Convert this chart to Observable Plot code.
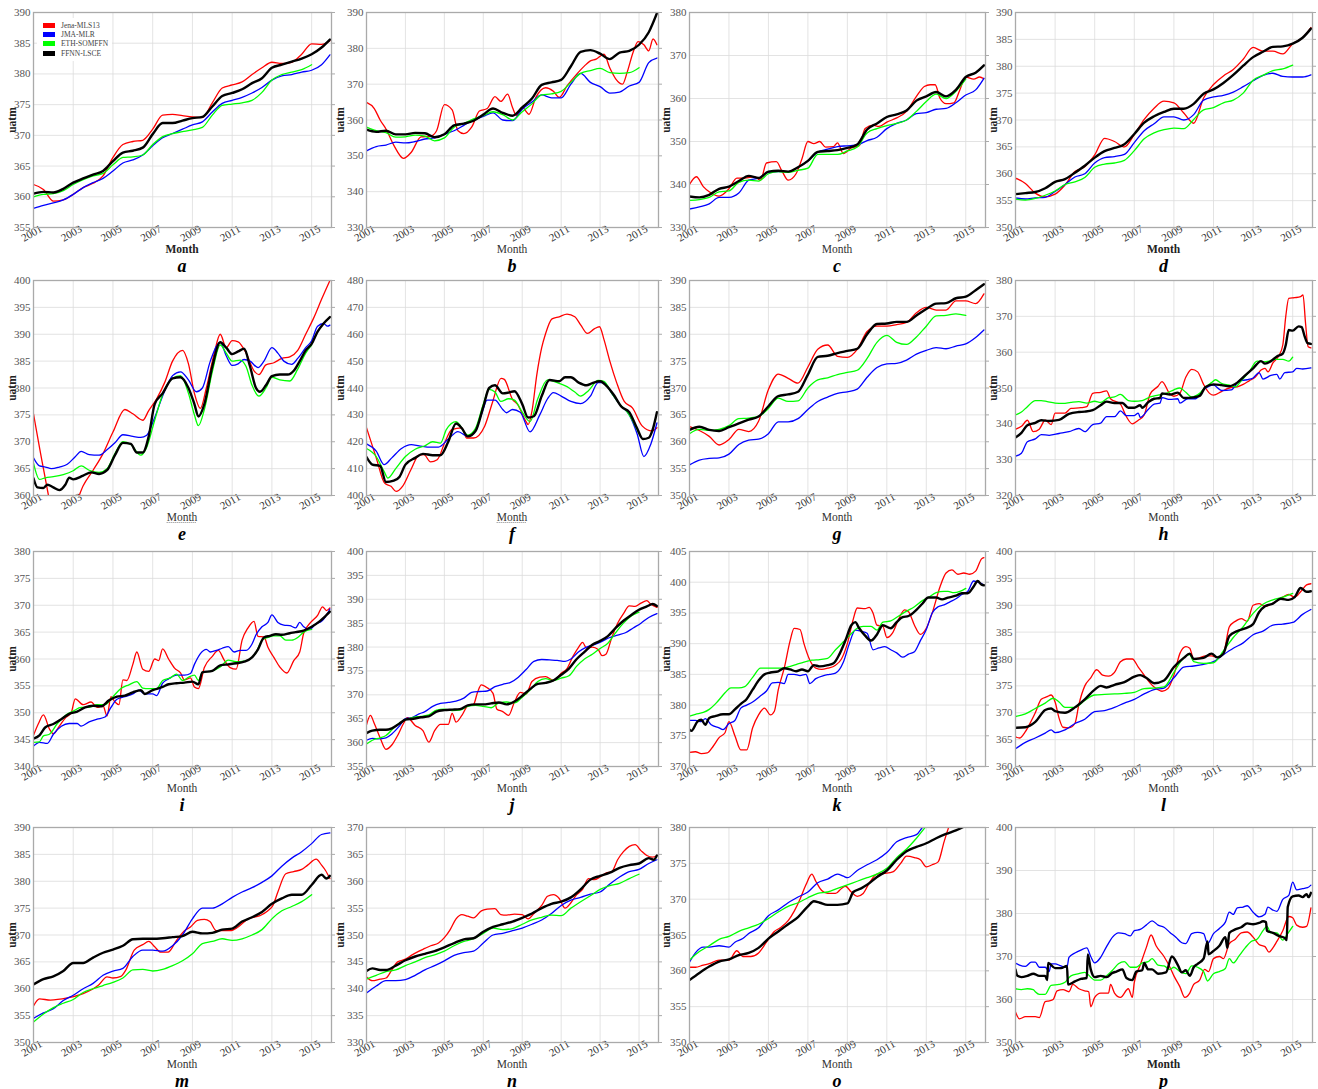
<!DOCTYPE html>
<html>
<head>
<meta charset="utf-8">
<script src="https://cdn.jsdelivr.net/npm/d3@7"></script>
<script src="https://cdn.jsdelivr.net/npm/@observablehq/plot@0.6"></script>
<style>
  body { margin: 0; background: #fff; }
  #fig { position: relative; width: 1318px; height: 1089px; overflow: hidden;
         font-family: "Liberation Serif", "DejaVu Serif", serif; color: #222; }
  .panel { position: absolute; }
  .ylab { position: absolute; font-size: 11.5px; font-weight: bold; white-space: nowrap;
          transform: translate(-50%, -50%) rotate(-90deg); color: #222; }
  .xlab { position: absolute; font-size: 11.5px; white-space: nowrap;
          transform: translate(-50%, -50%); color: #333; }
  .xlab.bold { font-weight: bold; color: #222; }
  .xlab.dotted { text-decoration: underline dotted #888; }
  .letter { position: absolute; font-size: 18px; font-weight: bold; font-style: italic;
            transform: translate(-50%, -50%); color: #000; }
  .legend { position: absolute; background: #fff; padding: 3px 4px 3px 6px; }
  .legend .row { display: flex; align-items: center; height: 9.2px; }
  .legend .sw { width: 12px; height: 5px; margin-right: 6px; }
  .legend .lab { font-size: 7.5px; color: #444; white-space: nowrap; }
</style>
</head>
<body>
<div id="fig"></div>
<script>
// Half-year time grid used by the evenly sampled series
const T = [2001, 2001.5, 2002, 2002.5, 2003, 2003.5, 2004, 2004.5, 2005, 2005.5,
           2006, 2006.5, 2007, 2007.5, 2008, 2008.5, 2009, 2009.5, 2010, 2010.5,
           2011, 2011.5, 2012, 2012.5, 2013, 2013.5, 2014, 2014.5, 2015, 2015.5, 2015.92];

const seriesNames = ["Jena-MLS13", "JMA-MLR", "ETH-SOMFFN", "FFNN-LSCE"];
const seriesColors = ["#ff0000", "#0000ff", "#00ff00", "#000000"];
const seriesWidths = [1.3, 1.3, 1.3, 2.4];

const xTicks = [2001, 2003, 2005, 2007, 2009, 2011, 2013, 2015];

// ---- panel a ----
const a_ticks = [355, 360, 365, 370, 375, 380, 385, 390];
const a_jena = [362, 361.2, 359.3, 359.5, 360.4, 361.5, 362.2, 363.4, 366.4, 368.5, 369, 369.2, 371, 373.3, 373.4, 373.2, 373, 372.9, 375.3, 377.7, 378.2, 378.7, 379.9, 381, 381.9, 381.7, 381.9, 383.2, 384.9, 384.8, 385.4];
const a_jma = [358.1, 358.6, 359, 359.5, 360.4, 361.5, 362.3, 363, 364.2, 365.5, 366, 366.8, 368.3, 369.6, 370.3, 371, 371.7, 372.2, 373.8, 375.2, 375.7, 376.2, 376.9, 377.8, 379, 379.7, 379.9, 380.3, 380.6, 381.5, 383.1];
const a_eth = [360, 360.4, 360.5, 361, 362, 362.8, 363.4, 363.8, 365.2, 366.4, 366.5, 366.8, 368.5, 369.8, 370.3, 370.6, 370.9, 371.3, 373.3, 374.9, 375.1, 375.3, 375.7, 377, 379, 379.9, 380.3, 380.7, 381.5];
const a_ffnn = [360.5, 360.8, 360.7, 361.3, 362.3, 363, 363.6, 364.2, 365.8, 367.2, 367.5, 368, 370.2, 372, 372, 372.4, 372.8, 373, 374.7, 376.4, 376.9, 377.5, 378.5, 379.3, 381, 381.5, 382, 382.5, 383.2, 384.3, 385.6];

// ---- panel b ----
const b_ticks = [330, 340, 350, 360, 370, 380, 390];
const b_jena = [[2001,364.9],[2001.4,363.2],[2001.7,360],[2002,357.5],[2002.4,353],[2002.9,349.3],[2003.3,351],[2003.8,355.3],[2004.3,355.5],[2004.6,357],[2005,364.3],[2005.4,362.8],[2005.7,357],[2006,356.2],[2006.4,358],[2006.8,362.5],[2007.2,363.2],[2007.6,366.5],[2007.9,365.2],[2008.25,367.2],[2008.5,363.5],[2008.7,361.3],[2009,363.5],[2009.35,361.6],[2009.7,366.3],[2010.2,369],[2010.6,368],[2010.9,366.3],[2011.3,369.5],[2011.8,372.8],[2012.2,375.1],[2012.5,376.5],[2012.8,377],[2013.2,378.4],[2013.5,374.5],[2013.8,371.5],[2014.15,370],[2014.4,373.5],[2014.7,379],[2014.95,381.9],[2015.25,381],[2015.5,379.3],[2015.72,382.6],[2015.92,381]];
const b_jma = [351.4, 352.6, 353, 353.8, 353.6, 354, 354.7, 355, 356, 357, 358.5, 360, 361, 362, 360, 359.8, 363, 365, 367, 366.2, 366.2, 370, 373, 370.5, 369.3, 367.5, 367.8, 369.5, 370.5, 376, 377.3];
const b_eth = [358, 357, 356.5, 355.2, 355.3, 355.8, 355.5, 354.2, 355, 358, 359, 360.3, 361.2, 362.3, 361.5, 360, 362.3, 364.5, 367, 367.3, 368, 370.5, 373, 373.8, 374.4, 373.2, 373, 373.2, 374.6];
const b_ffnn = [357.3, 356.7, 357, 356, 356, 356.4, 356.3, 355.2, 356, 358.5, 359, 359.8, 361.5, 363.2, 362, 361.2, 363.5, 366, 369.8, 370.5, 371.2, 375, 379, 379.5, 378.5, 377, 378.8, 379.3, 381, 384.5, 389.8];

// ---- panel c ----
const c_ticks = [330, 340, 350, 360, 370, 380];
const c_jena = [[2001,340],[2001.35,341.8],[2001.7,339.5],[2002,338.3],[2002.5,337.3],[2003,339],[2003.4,341.5],[2003.8,341.5],[2004.3,341.8],[2004.6,341],[2004.9,345],[2005.4,345.3],[2005.7,343],[2006,341],[2006.4,342.5],[2006.7,346],[2007,350],[2007.3,349.5],[2007.6,350],[2007.9,348.7],[2008.3,348.8],[2008.5,349.7],[2008.8,347.2],[2009.2,348.5],[2009.6,349],[2009.9,353],[2010.3,353.8],[2010.6,353.5],[2011,354.5],[2011.5,355.5],[2012,357],[2012.5,360.5],[2012.9,362.8],[2013.2,363.2],[2013.45,363.2],[2013.7,360],[2014,358.8],[2014.4,359],[2014.7,362],[2015,365],[2015.4,364.5],[2015.7,365],[2015.92,364.6]];
const c_jma = [334.3, 334.8, 335.5, 337, 337, 338, 341, 341.5, 342.8, 343, 343, 344, 345.5, 347.5, 348.2, 348.8, 349, 349.2, 350.2, 351, 353, 354.2, 355, 356.5, 356.7, 357.5, 357.7, 359, 360.8, 362, 364.7];
const c_eth = [336.3, 336.5, 337, 338.3, 338.5, 340.5, 341, 340.8, 342.5, 343, 342.8, 343.3, 343.8, 347, 347, 347, 347.8, 348.7, 352, 353, 353.7, 354.2, 355, 357, 359.3, 361, 360, 361.7, 364.5];
const c_ffnn = [337.2, 337, 337.6, 339, 339.5, 340.8, 342, 341.5, 343, 343.2, 343, 344, 345.5, 347.6, 347.8, 348, 348.5, 349.3, 352.8, 354.2, 355.7, 356.3, 357.2, 359.5, 360.5, 361.5, 360.5, 362, 365, 366, 367.7];

// ---- panel d ----
const d_ticks = [350, 355, 360, 365, 370, 375, 380, 385, 390];
const d_jena = [359.2, 358.2, 356.4, 355.7, 356.2, 357.9, 360.4, 361.3, 363.5, 366.6, 366, 365, 367.3, 370.1, 372.2, 373.5, 373.2, 371.3, 369.4, 374.1, 376.6, 378.2, 379.4, 381.3, 383.5, 382.8, 382.8, 382.3, 384.2, 385.3, 387.2];
const d_jma = [355.5, 355.3, 355.5, 355.6, 356.7, 358, 359.4, 360, 362, 363, 363.2, 363.6, 365.8, 368, 369.3, 370.6, 370.6, 370, 371, 373.7, 374.3, 374.6, 375.2, 376.2, 377.3, 378.3, 378.7, 378.1, 378, 378, 378.4];
const d_eth = [355.3, 355.1, 355.4, 356, 356.8, 358, 358.5, 359.3, 361.2, 361.8, 362, 362.5, 364.3, 366.5, 367.6, 368.2, 368.5, 368.4, 370.1, 371.9, 372.3, 373.2, 373.7, 375, 377.4, 378.3, 379.2, 379.5, 380.2];
const d_ffnn = [356.2, 356.4, 356.6, 357.3, 358.5, 359, 360.2, 361.5, 363, 364.2, 364.8, 365.5, 367.4, 369.5, 370.7, 371.5, 372.1, 372.1, 373, 374.9, 375.7, 376.9, 378.4, 380.1, 381.7, 382.7, 383.6, 383.7, 384.2, 385.3, 387];

// ---- panel e ----
const e_ticks = [360, 365, 370, 375, 380, 385, 390, 395, 400];
const e_jena = [[2001,375.2],[2001.5,365],[2002,356],[2002.5,353],[2003,357],[2003.5,361.8],[2004,364.7],[2004.5,367.8],[2005,371.8],[2005.6,376],[2006,375.2],[2006.5,374],[2006.8,375.8],[2007.2,378],[2007.6,381],[2008,385],[2008.5,387],[2008.8,384.5],[2009.1,379],[2009.4,376.2],[2009.7,380],[2010.1,386.5],[2010.4,390],[2010.7,387.5],[2011,388.8],[2011.3,388.6],[2011.7,386.5],[2012.1,383.2],[2012.35,382.5],[2012.7,384.3],[2013.1,384.7],[2013.5,385.5],[2013.9,385.8],[2014.3,387],[2014.7,390],[2015.1,393],[2015.5,396.5],[2015.92,400]];
const e_jma = [[2001,367],[2001.3,365.5],[2001.6,365.3],[2001.9,365],[2002.3,365.3],[2002.7,365.8],[2003.1,367.2],[2003.4,368.2],[2003.8,367.6],[2004.3,367.5],[2004.7,368.5],[2005.1,369.8],[2005.5,371.3],[2006,371],[2006.4,370.8],[2006.7,371.2],[2007.1,374.5],[2007.5,378.5],[2008,382.3],[2008.4,383],[2008.8,381.5],[2009.2,379.3],[2009.5,380],[2009.9,385],[2010.4,388.5],[2010.7,386],[2011,384.2],[2011.3,384.5],[2011.6,385.3],[2011.9,385],[2012.3,383.8],[2012.6,385],[2013,387.5],[2013.3,386.5],[2013.6,385],[2014,384.4],[2014.3,385.5],[2014.7,387.5],[2015,388.8],[2015.3,391.5],[2015.6,392],[2015.8,391.5],[2015.92,391.7]];
const e_eth = [[2001,366],[2001.3,363],[2001.6,363.3],[2002,363.5],[2002.5,363.9],[2003,364.6],[2003.4,365.5],[2003.8,364.7],[2004.3,364.3],[2004.7,365],[2005.1,367.8],[2005.5,370],[2005.9,369.5],[2006.4,367.5],[2006.7,369],[2007.1,374],[2007.5,378.8],[2008,381.8],[2008.4,382.3],[2008.8,379],[2009.1,375],[2009.3,373],[2009.6,376],[2010,383],[2010.4,388],[2010.7,386.5],[2011,385],[2011.4,385.2],[2011.7,384],[2012,380.5],[2012.35,378.5],[2012.7,380],[2013,382],[2013.4,381.5],[2013.9,381.3],[2014.3,383.5],[2014.7,386.5],[2015,388]];
const e_ffnn = [[2001,363.2],[2001.2,361.5],[2001.5,361.4],[2001.7,362],[2002,361.5],[2002.3,361],[2002.6,362],[2002.8,363.3],[2003,363],[2003.5,363.7],[2003.9,364.3],[2004.3,364],[2004.7,364.7],[2005.1,367.5],[2005.5,369.8],[2005.9,369.6],[2006.2,368],[2006.5,368],[2006.8,371],[2007.1,377],[2007.5,379],[2008,381.8],[2008.4,382],[2008.8,380],[2009.1,377],[2009.3,374.7],[2009.6,377],[2010,384],[2010.4,388.5],[2010.7,387.5],[2011,386.3],[2011.3,386.8],[2011.6,387.3],[2011.9,384],[2012.2,380],[2012.4,379.3],[2012.7,380.5],[2013,382.2],[2013.4,382.5],[2013.8,382.5],[2014.1,383.2],[2014.4,385],[2014.7,387],[2015,388.2],[2015.3,390.5],[2015.6,392],[2015.92,393.2]];

// ---- panel f ----
const f_ticks = [400, 410, 420, 430, 440, 450, 460, 470, 480];
const f_jena = [[2001,425.2],[2001.5,414],[2001.93,404.6],[2002.26,403.4],[2002.52,401.5],[2002.85,403.4],[2003.28,409.6],[2003.7,415],[2003.95,415.2],[2004.29,412.5],[2004.63,413.3],[2005.05,420.2],[2005.38,424.5],[2005.89,425.2],[2006.14,421.4],[2006.5,421.4],[2007.07,425.8],[2007.49,435.1],[2007.91,443.6],[2008.08,443.2],[2008.5,435.8],[2008.76,433.9],[2009.18,427.7],[2009.3,426.4],[2009.5,431.4],[2009.75,445],[2010,455],[2010.19,460],[2010.53,465.7],[2010.9,466.5],[2011.3,467.5],[2011.7,466.5],[2012,463.5],[2012.35,460.3],[2012.7,462],[2012.97,462.8],[2013.2,458],[2013.5,450],[2013.85,442],[2014.24,435],[2014.66,432.6],[2015.17,425.8],[2015.67,424],[2015.92,425.2]];
const f_jma = [[2001,419.2],[2001.5,416.5],[2001.9,411.5],[2002.3,414],[2002.8,417.5],[2003.3,418.9],[2003.7,418.5],[2004.3,418],[2004.7,418],[2005.2,421],[2005.7,423.8],[2006.2,422],[2006.5,423],[2006.9,430],[2007.2,435.5],[2007.6,435.5],[2008,432],[2008.2,430.8],[2008.5,432],[2008.9,431],[2009.4,423.7],[2009.9,430],[2010.3,436],[2010.6,438.3],[2011,437],[2011.5,435],[2012,434.2],[2012.5,437],[2012.9,442],[2013.2,442],[2013.6,438],[2014,434],[2014.5,430],[2014.9,423],[2015.25,414.5],[2015.6,419],[2015.92,427]];
const f_eth = [[2001,417.5],[2001.5,414.5],[2001.9,409],[2002.1,406.5],[2002.5,410],[2003,414.5],[2003.5,417.2],[2004,418.5],[2004.4,420],[2004.8,419.5],[2005.1,424.5],[2005.6,427.5],[2006.2,422.5],[2006.6,425],[2007,434],[2007.3,439.5],[2007.6,438.5],[2007.9,435],[2008.3,436],[2008.6,435.5],[2009,431],[2009.4,427.5],[2009.8,436],[2010.3,443],[2010.8,442],[2011.3,440.5],[2011.7,438.5],[2012,437],[2012.4,439],[2012.9,442.8],[2013.2,442.5],[2013.6,438],[2014,434],[2014.4,431],[2014.8,426],[2015,423]];
const f_ffnn = [[2001,414.3],[2001.3,411.5],[2001.7,411],[2002,405],[2002.4,405.5],[2002.7,407],[2003,411.5],[2003.5,414],[2003.9,415.5],[2004.4,415],[2004.8,415],[2005.2,420],[2005.6,426.8],[2005.9,425],[2006.2,422],[2006.6,424],[2007,433],[2007.3,440],[2007.6,441],[2008,438],[2008.3,438.3],[2008.6,438.8],[2009,434],[2009.3,429],[2009.6,429.5],[2010,437],[2010.4,443],[2010.9,442.5],[2011.2,444],[2011.5,444],[2011.9,442],[2012.3,441],[2012.6,441.8],[2013,442.5],[2013.3,441],[2013.7,437.5],[2014.1,433],[2014.5,431],[2014.9,425],[2015.2,421],[2015.5,421.5],[2015.7,424.5],[2015.92,431]];

// ---- panel g ----
const g_ticks = [350, 355, 360, 365, 370, 375, 380, 385, 390];
const g_jena = [362.8, 362.1, 361, 359.4, 360.4, 362.3, 361.9, 363.8, 369.7, 372.6, 371.8, 370.9, 373.9, 377.2, 378, 375.9, 375.7, 377.2, 380.5, 381.5, 381.5, 381.8, 382.2, 384, 385, 384.5, 384.5, 386.2, 386.2, 385.7, 387.5];
const g_jma = [355.7, 356.6, 356.9, 357, 357.7, 359.5, 360.3, 360.5, 361.5, 363.7, 363.7, 364.3, 366, 367.5, 368.3, 369, 369.3, 369.8, 372, 373.8, 374.5, 374.6, 375.2, 376.3, 377, 377.5, 377.3, 377.8, 378.2, 379.4, 380.8];
const g_eth = [361.5, 362.3, 362.1, 362.3, 363, 364.3, 364.4, 364.7, 366.2, 368.1, 367.5, 367.6, 370, 371.5, 371.9, 372.5, 372.9, 373.3, 375.5, 378.5, 379.8, 378.5, 378.1, 379.5, 381.5, 383.4, 383.5, 383.8, 383.5];
const g_ffnn = [362.2, 362.8, 362.2, 362, 362.7, 363.4, 364.1, 364.7, 366.6, 368.5, 368.8, 369.3, 372.5, 375.8, 376, 376.5, 376.9, 377.3, 380, 381.9, 382, 382.3, 382.3, 383.5, 384.7, 385.7, 385.8, 386.7, 387, 388.2, 389.3];

// ---- panel h ----
const h_ticks = [320, 330, 340, 350, 360, 370, 380];
const h_jena = [[2001,338.5],[2001.3,339.3],[2001.6,341],[2001.9,337.8],[2002.2,338.5],[2002.5,341],[2002.8,339.8],[2003,343],[2003.5,343],[2003.8,344.3],[2004.3,344.5],[2004.6,344.8],[2004.9,348.5],[2005.3,348.8],[2005.6,349.2],[2005.8,347],[2006.3,345.5],[2006.6,342],[2006.9,340],[2007.2,341],[2007.5,342.5],[2007.8,348.3],[2008.2,350.5],[2008.4,351.8],[2008.8,348.3],[2009,347.7],[2009.3,348.5],[2009.6,353],[2009.9,355.2],[2010.2,354.5],[2010.5,351],[2010.8,348.5],[2011,348],[2011.4,349],[2011.8,350],[2012.2,350.3],[2012.5,351],[2012.8,352],[2013.1,353],[2013.4,355],[2013.6,355.5],[2013.75,354.5],[2014,357],[2014.3,359],[2014.5,362],[2014.65,370],[2014.8,375],[2015.1,375.2],[2015.4,375.5],[2015.52,376],[2015.65,368],[2015.78,361.5],[2015.92,361.2]];
const h_jma = [[2001,331],[2001.3,331.8],[2001.6,335],[2002,335.8],[2002.3,337],[2002.7,336.8],[2003.2,337.3],[2003.7,337.8],[2004.2,338.7],[2004.5,337.8],[2004.9,339.8],[2005.3,340.2],[2005.6,342],[2006,342],[2006.3,343.6],[2006.6,342.3],[2007,342.3],[2007.2,343],[2007.3,341.8],[2007.7,344],[2008,345.5],[2008.3,345.8],[2008.4,347.3],[2008.8,346.8],[2009.2,347],[2009.3,345.8],[2009.7,347],[2010.1,347],[2010.5,349.5],[2011,350.8],[2011.4,349.3],[2011.9,349.5],[2012.3,352],[2012.7,352.3],[2013,352.8],[2013.3,354.3],[2013.5,352.5],[2013.9,353.5],[2014.2,353.8],[2014.35,352.5],[2014.6,354.3],[2015,354.5],[2015.2,355.5],[2015.5,355.3],[2015.92,355.6]];
const h_eth = [[2001,342.5],[2001.3,343.3],[2001.6,344.8],[2002,346.5],[2002.3,346.5],[2002.6,346.2],[2003,345.8],[2003.4,345.7],[2003.8,346],[2004.2,346.2],[2004.6,345.8],[2005,346.3],[2005.3,346],[2005.7,347.3],[2006,347.5],[2006.3,348.2],[2006.7,346.5],[2007,346.3],[2007.4,346.5],[2007.8,347.5],[2008.2,348],[2008.6,348.5],[2009,349.5],[2009.3,350],[2009.6,348.8],[2009.9,347.5],[2010.3,348.5],[2010.6,350.3],[2010.9,351.5],[2011.1,352.3],[2011.4,351.3],[2011.8,350.8],[2012.1,350.3],[2012.4,352],[2012.8,354.5],[2013.2,357.5],[2013.5,357.3],[2013.8,357.5],[2014.1,358],[2014.5,358],[2014.8,357.5],[2015,358.6]];
const h_ffnn = [[2001,336.2],[2001.3,337.5],[2001.6,339.6],[2002,340.3],[2002.3,341],[2002.7,340.8],[2003.2,341.1],[2003.7,342.8],[2004.2,343.3],[2004.5,343.4],[2004.9,343.8],[2005.3,345.2],[2005.6,346.2],[2006,345.8],[2006.4,345.8],[2006.7,344.5],[2007,344.5],[2007.3,345.2],[2007.4,344.5],[2007.7,346],[2008,347],[2008.3,347.2],[2008.4,348.5],[2008.8,348.2],[2009.2,348.7],[2009.5,347.2],[2010,347.4],[2010.3,347.8],[2010.6,350.3],[2011,351],[2011.4,350.8],[2011.8,350.5],[2012.2,351.5],[2012.6,353.5],[2013,355.5],[2013.4,357.5],[2013.6,356.8],[2013.9,357.5],[2014.2,358.8],[2014.5,359.6],[2014.65,362],[2014.8,366.2],[2015,366],[2015.3,367.2],[2015.45,367],[2015.6,364.5],[2015.75,362.5],[2015.92,362.3]];

// ---- panel i ----
const i_ticks = [340, 345, 350, 355, 360, 365, 370, 375, 380];
const i_jena = [[2001,345.8],[2001.25,348],[2001.5,349.6],[2001.8,347],[2002,346.1],[2002.3,347.5],[2002.6,349],[2002.9,350],[2003.1,352.6],[2003.5,351.5],[2003.9,352],[2004.2,351],[2004.5,351.3],[2004.7,349.4],[2004.9,353],[2005.1,352],[2005.3,351.5],[2005.5,356.1],[2005.7,356],[2006,359],[2006.2,361.3],[2006.5,358.1],[2006.8,357.7],[2007.1,360],[2007.3,359.7],[2007.5,361.9],[2007.8,360],[2008.1,358.3],[2008.4,357.4],[2008.6,356.1],[2008.9,356.5],[2009.1,354.8],[2009.3,354.5],[2009.6,358.4],[2010,360.5],[2010.3,361.6],[2010.6,359.8],[2010.9,358.4],[2011.2,358.1],[2011.5,363.5],[2011.8,365.8],[2012.1,367],[2012.3,364.2],[2012.6,364.1],[2012.8,362.2],[2013.1,360.3],[2013.4,358.5],[2013.75,357.4],[2014.1,359.7],[2014.4,361.3],[2014.6,364.8],[2014.95,366.8],[2015.3,368.1],[2015.55,369.7],[2015.75,369],[2015.92,369.5]];
const i_jma = [[2001,343.8],[2001.3,344.5],[2001.7,344.3],[2002,346],[2002.4,347.5],[2002.8,348],[2003.2,348],[2003.4,347.5],[2003.8,348.3],[2004.2,348.8],[2004.6,349.2],[2004.9,351],[2005.2,352.5],[2005.6,353],[2006,353.5],[2006.3,354.2],[2006.6,353.5],[2007,353.5],[2007.2,353.2],[2007.5,355.5],[2007.8,356.3],[2008.2,357],[2008.6,357],[2008.9,357.3],[2009.1,359],[2009.4,361],[2009.7,361.8],[2009.9,361.3],[2010.2,361.6],[2010.5,362],[2010.8,362.3],[2011.1,361.3],[2011.4,361.6],[2011.7,361.6],[2012,362.8],[2012.2,364.5],[2012.5,366],[2012.8,366.8],[2013,368.2],[2013.3,366.8],[2013.6,366.3],[2013.9,366.2],[2014.2,365.8],[2014.4,366.8],[2014.6,366],[2014.9,365.5],[2015.2,366.5],[2015.5,367],[2015.8,368.5],[2015.92,369.3]];
const i_eth = [[2001,344.5],[2001.3,344.6],[2001.5,345.7],[2001.8,346],[2002.2,348],[2002.6,349.5],[2003,350.3],[2003.4,351],[2003.8,351],[2004.2,351.5],[2004.6,351.5],[2005,353],[2005.4,354.5],[2005.8,355.2],[2006.2,355.8],[2006.5,354.6],[2006.8,354.5],[2007.2,354.5],[2007.5,356],[2007.9,356.5],[2008.2,357.2],[2008.5,356],[2008.8,356.6],[2009.1,357],[2009.3,356],[2009.5,357.5],[2010,357.8],[2010.4,358.5],[2010.8,359.8],[2011.2,359.5],[2011.6,359.6],[2011.9,360],[2012.2,361.2],[2012.5,363.5],[2012.8,364],[2013.1,364.3],[2013.4,364.3],[2013.7,363.5],[2014,363.5],[2014.3,364],[2014.6,365],[2015,365.5]];
const i_ffnn = [[2001,345.2],[2001.3,345.8],[2001.6,347.3],[2002,347.9],[2002.4,348.8],[2002.8,349.8],[2003.2,350.2],[2003.6,351],[2004,351.3],[2004.4,351.2],[2004.8,352.3],[2005.2,353],[2005.6,353.2],[2006,353.8],[2006.4,354.2],[2006.6,353.5],[2007,354.2],[2007.5,354.8],[2007.8,355.3],[2008.2,355.5],[2008.6,355.6],[2009,355.8],[2009.3,355.3],[2009.5,357.5],[2010,357.8],[2010.4,358.8],[2010.8,359],[2011.2,359.2],[2011.6,359.5],[2012,360.3],[2012.3,361.8],[2012.6,364],[2012.9,364.3],[2013.2,364.6],[2013.5,364.5],[2013.9,364.8],[2014.2,365],[2014.6,365.3],[2015,366],[2015.4,367],[2015.7,368],[2015.92,368.8]];

// ---- panel j ----
const j_ticks = [355, 360, 365, 370, 375, 380, 385, 390, 395, 400];
const j_jena = [[2001,363.7],[2001.2,365.7],[2001.4,364],[2001.7,361],[2002,358.6],[2002.3,359.5],[2002.6,361.5],[2002.9,364],[2003.1,365.2],[2003.5,363.6],[2003.9,362.5],[2004.2,360.1],[2004.5,362.5],[2004.8,363.8],[2005.2,363.8],[2005.4,366.1],[2005.6,364.3],[2005.9,365.7],[2006.2,367.7],[2006.5,368],[2006.7,370.5],[2006.9,372.1],[2007.2,371.5],[2007.5,370.3],[2007.7,367],[2008,366.5],[2008.3,365.7],[2008.6,368.5],[2008.9,370.5],[2009.2,370.2],[2009.5,372.8],[2009.9,373.7],[2010.2,373.8],[2010.6,373],[2011,374.5],[2011.3,375.5],[2011.6,378],[2011.9,380],[2012.1,381],[2012.3,379.8],[2012.6,380],[2012.9,379.5],[2013.1,378.2],[2013.3,378.5],[2013.6,382],[2013.9,385],[2014.2,387],[2014.5,388.6],[2014.8,388.5],[2015.1,389.2],[2015.4,389.7],[2015.6,389],[2015.92,388.3]];
const j_jma = [[2001,360.5],[2001.3,360.9],[2001.6,360.8],[2002,361],[2002.3,361.8],[2002.7,363.5],[2003,365],[2003.3,365.2],[2003.7,366],[2004,366.5],[2004.4,367.6],[2004.8,368.2],[2005.2,368.4],[2005.6,368.7],[2006,369.3],[2006.4,370.5],[2006.8,370.7],[2007.2,370.8],[2007.6,371.7],[2008,372.2],[2008.4,372.6],[2008.8,373.7],[2009.2,375.3],[2009.6,377],[2010,377.4],[2010.4,377.3],[2010.8,377.2],[2011.2,377],[2011.5,377.5],[2011.9,379],[2012.3,380],[2012.7,380.5],[2013.1,381.2],[2013.5,382],[2013.9,382.5],[2014.3,383],[2014.7,384],[2015.1,385],[2015.5,386.2],[2015.92,387]];
const j_eth = [[2001,359.7],[2001.3,360.5],[2001.7,361],[2002,361.5],[2002.5,363.5],[2003,364.8],[2003.4,365.3],[2003.8,365.5],[2004.2,365.8],[2004.6,366.8],[2005,367],[2005.4,366.7],[2005.8,366.8],[2006.2,367.6],[2006.6,367.8],[2007,367.6],[2007.4,367.3],[2007.8,368.3],[2008.2,368.5],[2008.6,368.3],[2009,369.5],[2009.4,371],[2009.8,372.8],[2010.2,373.4],[2010.6,373],[2011,373.5],[2011.4,374],[2011.8,376],[2012.2,377.5],[2012.6,378.5],[2013,379.7],[2013.4,380.8],[2013.8,383],[2014.2,385],[2014.6,386.5],[2015,387.3]];
const j_ffnn = [[2001,362],[2001.3,362.5],[2001.7,362.7],[2002,362.7],[2002.3,363],[2002.7,364],[2003,364.8],[2003.4,365],[2003.8,365.3],[2004.2,365.5],[2004.6,366.5],[2005,366.8],[2005.4,366.9],[2005.8,367],[2006.2,367.8],[2006.6,368],[2007,368],[2007.4,368.2],[2007.8,368.4],[2008.2,368],[2008.6,368.6],[2009,369.8],[2009.4,371.2],[2009.8,372.3],[2010.2,372.5],[2010.6,373],[2011,374.2],[2011.4,375.5],[2011.8,377.5],[2012.2,379],[2012.6,380.5],[2013,381.3],[2013.4,382.3],[2013.8,384],[2014.2,385.5],[2014.6,386.7],[2015,387.8],[2015.4,388.5],[2015.7,389],[2015.92,388.6]];

// ---- panel k ----
const k_ticks = [370, 375, 380, 385, 390, 395, 400, 405];
const k_jena = [[2001,372.3],[2001.3,372.4],[2001.6,372.1],[2001.9,372.2],[2002.2,373.3],[2002.5,374.7],[2002.8,375.5],[2003,377.3],[2003.3,375],[2003.6,372.7],[2003.9,372.7],[2004.2,376.3],[2004.5,378.4],[2004.8,379.5],[2005.1,378.4],[2005.3,379],[2005.5,382.5],[2005.8,386],[2006.1,390.5],[2006.3,392.5],[2006.6,392.3],[2006.8,390],[2007.1,387.3],[2007.4,386],[2007.7,385.8],[2008,386],[2008.4,386.5],[2008.7,387.5],[2009,390],[2009.3,394],[2009.5,395.8],[2009.9,395.7],[2010.1,395.9],[2010.3,395],[2010.5,393],[2010.8,392.8],[2011,391],[2011.3,391.8],[2011.6,394],[2011.9,395.5],[2012.1,395.2],[2012.4,393],[2012.7,391.5],[2013,392.5],[2013.3,395],[2013.7,399.3],[2014,401.5],[2014.3,402],[2014.6,401.3],[2014.9,401.5],[2015.2,401.3],[2015.5,401.8],[2015.8,403.8],[2015.92,404]];
const k_jma = [[2001,377.5],[2001.3,377.5],[2001.6,377.3],[2001.8,377.8],[2002.1,376.8],[2002.5,376.3],[2002.7,376],[2003,377],[2003.3,377.5],[2003.6,379.5],[2003.9,380],[2004.2,380.5],[2004.6,381.5],[2004.9,382.3],[2005.2,383.6],[2005.5,383.7],[2005.8,383.5],[2006,385],[2006.3,385],[2006.6,384.8],[2006.9,385],[2007.1,383.5],[2007.4,384.3],[2007.8,384.8],[2008.1,385],[2008.4,385.2],[2008.8,387],[2009.1,390],[2009.4,392.2],[2009.7,392],[2010,391.7],[2010.3,389],[2010.6,389.3],[2010.9,389.5],[2011.2,389],[2011.5,388.5],[2011.8,387.8],[2012.1,388.3],[2012.4,388.7],[2012.7,390.5],[2013,392.3],[2013.3,395],[2013.6,396],[2013.9,396.3],[2014.2,396.8],[2014.5,397.3],[2014.8,398],[2015.1,398.5],[2015.4,400.2],[2015.6,400],[2015.8,399.8],[2015.92,399.5]];
const k_eth = [[2001,378.2],[2001.3,378.5],[2001.7,378.8],[2002,379.3],[2002.4,380.5],[2002.8,382],[2003.1,382.8],[2003.5,382.8],[2003.8,383],[2004.2,384.5],[2004.6,386],[2004.9,386],[2005.3,386],[2005.7,386],[2006,386.2],[2006.4,386.6],[2006.8,387],[2007.2,387.3],[2007.6,387.4],[2008,387.6],[2008.4,389],[2008.8,390.3],[2009.1,391.3],[2009.5,392.5],[2009.8,392.8],[2010.2,392.8],[2010.5,392.2],[2010.8,393.5],[2011.2,393.7],[2011.6,394.5],[2012,395.3],[2012.4,396],[2012.8,397],[2013.1,397.5],[2013.5,398.3],[2013.9,398.5],[2014.1,398.5],[2014.4,398.3],[2014.7,398.5],[2015,399]];
const k_ffnn = [[2001,376],[2001.1,375.8],[2001.4,377.3],[2001.6,377.6],[2001.8,376.8],[2002,377.9],[2002.3,378.2],[2002.7,378.5],[2003,378.5],[2003.3,379.3],[2003.6,380.2],[2003.9,381],[2004.2,382.5],[2004.5,384],[2004.8,385],[2005.1,385.3],[2005.5,385.5],[2005.8,386],[2006.1,385.8],[2006.4,385.5],[2006.7,385.8],[2007,385.5],[2007.3,386.5],[2007.6,386.3],[2008,386.5],[2008.3,386.8],[2008.6,388.3],[2008.9,390.5],[2009.2,393],[2009.4,393.5],[2009.6,392.5],[2009.9,391.3],[2010.2,390.5],[2010.5,391.5],[2010.8,393],[2011.2,392.5],[2011.5,393.5],[2011.8,394.3],[2012.1,394.5],[2012.5,395.5],[2012.8,396.5],[2013.1,397.5],[2013.5,397.5],[2013.8,397.2],[2014.1,397.5],[2014.5,397.8],[2014.8,398.2],[2015.1,398.2],[2015.4,399.3],[2015.6,400.2],[2015.8,399.6],[2015.92,399.5]];

// ---- panel l ----
const l_ticks = [360, 365, 370, 375, 380, 385, 390, 395, 400];
const l_jena = [[2001,365.5],[2001.2,365.3],[2001.5,366.5],[2001.8,368.5],[2002,370],[2002.3,372.5],[2002.6,373],[2002.8,373.3],[2003,372],[2003.2,369],[2003.4,367.3],[2003.7,367.2],[2004,368],[2004.2,371.5],[2004.5,375],[2004.8,376.5],[2005.1,378],[2005.4,377],[2005.7,376.8],[2006,377.5],[2006.3,379.5],[2006.6,380],[2006.9,380],[2007.2,378.5],[2007.5,377],[2007.8,375.5],[2008.1,374.5],[2008.4,374],[2008.7,374.5],[2009,377],[2009.3,381],[2009.6,382.3],[2009.8,382],[2010,380],[2010.3,380.2],[2010.6,380.6],[2010.9,380.6],[2011.2,380.3],[2011.5,381],[2011.8,386],[2012.1,387],[2012.4,387.5],[2012.7,387],[2013,390],[2013.3,390.3],[2013.6,389.8],[2013.9,390.2],[2014.2,390.8],[2014.5,391.5],[2014.8,392],[2015.1,391.5],[2015.4,392.5],[2015.7,393.8],[2015.92,394]];
const l_jma = [[2001,363.3],[2001.5,364.5],[2002,365.3],[2002.5,366.2],[2002.8,366.8],[2003,366.3],[2003.5,366.8],[2004,368],[2004.5,368.8],[2005,370.2],[2005.5,370.4],[2006,371],[2006.5,371.8],[2007,372.5],[2007.5,373.5],[2008,374.3],[2008.5,374.6],[2009,376.5],[2009.5,378.5],[2010,378.7],[2010.5,379],[2011,379.5],[2011.5,380.8],[2012,382],[2012.5,383],[2013,384.5],[2013.5,385.2],[2014,386.3],[2014.5,386.5],[2015,386.8],[2015.5,388.3],[2015.92,389.2]];
const l_eth = [[2001,369.3],[2001.5,369.8],[2002,370.8],[2002.5,371.8],[2002.9,372.7],[2003.2,372],[2003.5,371],[2004,371],[2004.5,372.3],[2005,373.3],[2005.5,373.4],[2006,373.5],[2006.5,373.6],[2007,373.8],[2007.5,374.5],[2008,374.6],[2008.5,374.8],[2009,377.5],[2009.5,380.3],[2009.8,380.8],[2010,379.5],[2010.5,379.2],[2011,379.3],[2011.5,381.5],[2012,384],[2012.5,386],[2013,388.5],[2013.5,390.2],[2014,391],[2014.5,391.5],[2015,392.2]];
const l_ffnn = [[2001,367.2],[2001.5,367.3],[2002,368.3],[2002.5,370.5],[2002.8,370.8],[2003,370.3],[2003.5,370],[2004,371],[2004.5,372.5],[2005,374.3],[2005.3,375],[2005.6,374.7],[2006,375.2],[2006.5,375.7],[2007,376.7],[2007.3,377],[2007.6,376.5],[2008,375.5],[2008.5,376],[2009,378.5],[2009.5,380.2],[2009.8,381],[2010,380],[2010.5,380.2],[2010.9,381],[2011.2,380.3],[2011.5,381],[2011.8,384.3],[2012.2,385.2],[2012.6,385.7],[2013,386.5],[2013.3,388.7],[2013.6,389.8],[2014,390.3],[2014.4,391.2],[2014.8,391],[2015.1,391.5],[2015.4,393.2],[2015.7,392.5],[2015.92,392.6]];

// ---- panel m ----
const m_ticks = [350, 355, 360, 365, 370, 375, 380, 385, 390];
const m_jena = [[2001,356.8],[2001.3,358.1],[2001.85,357.9],[2002.7,358.3],[2003.5,359.1],[2004.28,360.7],[2004.7,362.2],[2005,362],[2005.4,362.3],[2005.65,363.5],[2006.07,367.2],[2006.5,368.2],[2006.8,368.8],[2007.1,367.8],[2007.4,366.8],[2007.77,366.8],[2008.2,369],[2008.6,370.8],[2008.9,371.5],[2009.25,372.7],[2009.6,372.9],[2009.88,372.5],[2010.2,370.8],[2010.6,370.8],[2010.9,370.8],[2011.3,371.5],[2011.8,373],[2012.4,373.6],[2012.8,374.5],[2013.05,375.5],[2013.3,378],[2013.7,381.4],[2014.1,381.8],[2014.5,382.2],[2014.8,383],[2015.23,384.1],[2015.5,383],[2015.7,382],[2015.92,380.5]];
const m_jma = [354.5, 355.5, 356.3, 357.8, 358.8, 360, 361, 362.5, 363.3, 363.8, 366, 367.2, 367.2, 367, 368, 370, 373, 375, 375, 375.8, 377, 378, 378.8, 379.8, 381, 382.8, 384.3, 385.5, 387, 388.7, 389];
const m_eth = [353.8, 355.3, 356.5, 357.3, 358, 359.3, 360, 360.6, 361.2, 362, 363.5, 363.6, 363.3, 363.6, 364.3, 365.2, 366.5, 368.4, 368.8, 369.3, 369, 369.3, 370, 371, 373, 374.5, 375.3, 376.2, 377.5];
const m_ffnn = [[2001,360.8],[2001.5,361.8],[2002,362.3],[2002.5,363.3],[2003,364.8],[2003.5,364.8],[2004,365.8],[2004.5,366.7],[2005,367.3],[2005.5,368],[2006,369.2],[2006.5,369.3],[2007,369.3],[2007.5,369.4],[2008,369.6],[2008.5,369.8],[2009,370.6],[2009.5,370.3],[2010,370.4],[2010.5,371],[2011,371.2],[2011.5,372.5],[2012,373.3],[2012.5,374.3],[2013,375.8],[2013.5,376.8],[2014,377.5],[2014.5,377.5],[2015,379.3],[2015.5,381.2],[2015.75,380.5],[2015.92,381]];

// ---- panel n ----
const n_ticks = [330, 335, 340, 345, 350, 355, 360, 365, 370];
const n_jena = [[2001,342.2],[2001.3,341.5],[2001.7,341.8],[2002,342],[2002.3,343.5],[2002.6,345],[2003,345.5],[2003.3,346.2],[2003.7,347],[2004,347.5],[2004.3,348],[2004.7,348.5],[2005,349.5],[2005.3,351],[2005.6,353],[2005.9,353.8],[2006.2,353.5],[2006.5,353.2],[2006.9,354.5],[2007.2,354.8],[2007.6,354.9],[2007.9,353.8],[2008.2,353.7],[2008.6,353.9],[2009,353.8],[2009.3,353],[2009.6,354],[2010,355.5],[2010.3,357.2],[2010.6,357.5],[2010.9,356.8],[2011.2,355],[2011.5,356],[2011.8,357.5],[2012.1,358.5],[2012.4,360.5],[2012.7,360.3],[2013,360.8],[2013.3,361.5],[2013.6,361.8],[2013.9,364],[2014.2,365.5],[2014.5,366.5],[2014.8,366.8],[2015.1,365.7],[2015.4,364.8],[2015.7,364.5],[2015.92,364.8]];
const n_jma = [339.2, 340.5, 341.5, 341.5, 341.7, 342.5, 343.5, 344.3, 345.2, 346.2, 346.7, 347, 348.5, 350, 350.3, 350.8, 351.3, 352, 352.8, 354, 355.5, 356.5, 357, 357.6, 358, 359.5, 360.8, 361.8, 362.2, 363.3, 364];
const n_eth = [341.8, 342.5, 343.2, 343.5, 344.3, 345, 345.8, 346.3, 347, 348, 348.8, 349.3, 350.3, 351.3, 351, 351.2, 352, 352.8, 353.3, 353.7, 353.6, 355, 356.2, 357.3, 358.5, 359.2, 359.6, 360.5, 361.3];
const n_ffnn = [[2001,343.3],[2001.3,343.8],[2001.7,343.5],[2002,343.5],[2002.5,344.3],[2003,345.3],[2003.5,346],[2004,346.5],[2004.5,347],[2005,347.7],[2005.5,348.5],[2006,349.2],[2006.5,349.4],[2007,350.6],[2007.5,351.5],[2008,352],[2008.5,352.5],[2009,353.2],[2009.5,354],[2010,355],[2010.5,355.8],[2011,356.2],[2011.5,357],[2012,358.5],[2012.5,360.3],[2013,361],[2013.5,361.6],[2014,362.5],[2014.5,363],[2015,363.3],[2015.5,364.3],[2015.75,364],[2015.92,364.8]];

// ---- panel o ----
const o_ticks = [350, 355, 360, 365, 370, 375, 380];
const o_jena = [[2001,360.5],[2001.3,360.5],[2001.7,360.8],[2002,361],[2002.5,361.5],[2003,361.5],[2003.4,362.8],[2003.7,362],[2004.1,362],[2004.5,362.5],[2004.9,364],[2005.3,365.5],[2005.6,366],[2006,367],[2006.3,368.3],[2006.6,370],[2006.9,372],[2007.2,373.5],[2007.4,372.5],[2007.7,371.2],[2008,370.8],[2008.4,370.8],[2008.7,371.5],[2008.9,371.8],[2009.2,371],[2009.5,370.4],[2009.8,370.8],[2010.1,372.2],[2010.5,373.5],[2010.9,373.6],[2011.3,373.8],[2011.7,375],[2012,376],[2012.4,375.8],[2012.7,375.5],[2013,374.5],[2013.3,374.8],[2013.6,375.2],[2013.9,378],[2014.2,380.5],[2014.6,382],[2015,383.5],[2015.5,385],[2015.92,386]];
const o_jma = [[2001,361.2],[2001.3,362.5],[2001.7,363.3],[2002,363.3],[2002.5,363.5],[2003,363.3],[2003.3,364],[2003.7,364.5],[2004,365.2],[2004.5,366],[2005,367.7],[2005.5,368.5],[2006,369.5],[2006.5,370.3],[2007,371],[2007.5,372.3],[2008,372.8],[2008.5,373.5],[2008.8,373.2],[2009,373],[2009.5,374],[2010,374.8],[2010.5,375.5],[2011,376.5],[2011.5,378],[2012,378.6],[2012.5,379],[2012.8,380],[2013.5,381.5],[2014.5,383],[2015.92,384.5]];
const o_eth = [[2001,361.5],[2001.5,362.7],[2002,363.5],[2002.5,364.4],[2003,364.8],[2003.5,365.5],[2004,366],[2004.5,366.5],[2005,367.3],[2005.5,368.2],[2006,369],[2006.5,369.5],[2007,370.2],[2007.5,370.8],[2008,371],[2008.5,371.5],[2009,372],[2009.5,372.5],[2010,373],[2010.5,373.5],[2011,374.3],[2011.5,375.8],[2012,377],[2012.5,378.5],[2013,380.2],[2014,383],[2015,385]];
const o_ffnn = [[2001,358.7],[2001.5,359.7],[2002,360.6],[2002.5,361.3],[2003,361.6],[2003.5,362.2],[2004,362.5],[2004.5,363.2],[2005,364.5],[2005.5,365.5],[2006,366.5],[2006.5,367.5],[2007,369],[2007.3,369.7],[2007.6,369.5],[2008,369.2],[2008.5,369.2],[2009,369.4],[2009.3,371],[2009.7,371.5],[2010,372],[2010.5,373.1],[2011,374],[2011.5,375.5],[2012,376.7],[2012.5,377.3],[2013,377.8],[2013.5,378.5],[2014,379.1],[2014.5,379.6],[2014.9,380.1],[2015.5,381],[2015.92,381.5]];

// ---- panel p ----
const p_ticks = [350, 360, 370, 380, 390, 400];
const p_jena = [[2001,357.1],[2001.2,355.5],[2001.5,356],[2002,356],[2002.2,355.8],[2002.5,359.5],[2002.7,359.7],[2002.9,360],[2003.1,362],[2003.4,362.3],[2003.7,361.8],[2003.9,363.5],[2004.2,362.5],[2004.5,362],[2004.7,361.8],[2004.8,358.3],[2005,360.5],[2005.3,361.5],[2005.7,361.5],[2005.8,363.5],[2006,361.5],[2006.3,360.5],[2006.7,362.5],[2006.9,360.5],[2007,364],[2007.3,368],[2007.6,372],[2007.85,375],[2008.1,372.5],[2008.5,370],[2008.8,367.5],[2009,365.5],[2009.3,363],[2009.55,360.5],[2009.8,361.5],[2010,363.5],[2010.3,364.5],[2010.55,367],[2010.75,366.5],[2011,369.5],[2011.3,370],[2011.5,369.5],[2011.8,373],[2012.1,374],[2012.4,375.5],[2012.7,375.7],[2013,374.5],[2013.3,372.8],[2013.6,372.3],[2013.8,371],[2014,372],[2014.2,373.5],[2014.5,376],[2014.8,379.3],[2015,379],[2015.2,377.3],[2015.5,376.8],[2015.7,377],[2015.92,381.3]];
const p_jma = [[2001,368.5],[2001.2,368],[2001.5,367.7],[2001.8,368.7],[2002,368.7],[2002.2,367.5],[2002.5,367.5],[2002.7,366.5],[2002.8,368.3],[2003,368.3],[2003.3,367.8],[2003.6,367.5],[2003.7,369.8],[2004,370.8],[2004.3,371.5],[2004.6,372],[2004.8,370],[2005,368.5],[2005.3,369.8],[2005.6,372.3],[2005.9,374.5],[2006.2,375.5],[2006.5,375.3],[2006.8,374.8],[2007,376],[2007.3,376.3],[2007.6,377.3],[2007.9,378.3],[2008.2,377.3],[2008.5,376.8],[2008.8,375.6],[2009.1,374.5],[2009.4,373.2],[2009.6,373],[2009.9,375.3],[2010.2,375.6],[2010.5,375.3],[2010.7,373],[2011,375.3],[2011.3,376.5],[2011.6,378],[2011.8,380.3],[2012,379.8],[2012.2,381.3],[2012.5,381.5],[2012.7,381.8],[2013,380.3],[2013.3,379.2],[2013.6,379.8],[2013.75,381.5],[2014,380.8],[2014.2,380.5],[2014.5,383.3],[2014.8,384.2],[2015,387.3],[2015.2,385.5],[2015.5,385.8],[2015.75,386],[2015.92,386.6]];
const p_eth = [[2001,362.5],[2001.3,362.3],[2001.6,362.5],[2001.9,362.3],[2002,361.8],[2002.2,361.2],[2002.5,361.2],[2002.8,363.3],[2003.2,363.5],[2003.5,364],[2003.8,365.5],[2004.2,366],[2004.5,366.3],[2004.8,365.2],[2005,364.5],[2005.3,364.5],[2005.6,365.5],[2005.9,366.8],[2006.2,368.3],[2006.5,368.8],[2006.8,367.5],[2007.1,367.5],[2007.4,368.5],[2007.7,368.8],[2007.9,369.5],[2008.2,368],[2008.5,367.8],[2008.8,367],[2009,367.5],[2009.3,366.5],[2009.6,366],[2009.9,367.8],[2010.2,367.5],[2010.5,366.5],[2010.7,364.3],[2011,366],[2011.3,366.5],[2011.6,367.2],[2011.8,369.5],[2012,368.5],[2012.3,370.2],[2012.6,372],[2012.9,373.5],[2013.2,374],[2013.5,376],[2013.7,377],[2013.9,375.5],[2014.2,375.5],[2014.5,373.8],[2014.7,375],[2015,377]];
const p_ffnn = [[2001,367],[2001.1,365.5],[2001.3,365.2],[2001.6,365.5],[2001.9,366],[2002.2,365.5],[2002.5,365.5],[2002.6,364.5],[2002.65,368.5],[2003,367.3],[2003.3,367.3],[2003.6,367.8],[2003.65,363.5],[2004,364.2],[2004.3,364.8],[2004.6,365],[2004.65,370.5],[2004.8,367],[2005,365.2],[2005.3,365.5],[2005.6,365.2],[2005.9,366.2],[2006.1,366.5],[2006.4,367],[2006.6,365],[2006.9,364.5],[2007.1,366.5],[2007.4,366.8],[2007.5,368.5],[2007.7,367],[2007.9,367],[2008.2,366],[2008.6,366.3],[2008.9,370],[2009.2,368],[2009.4,366.3],[2009.6,366.8],[2009.8,365.5],[2010,367.5],[2010.2,368.3],[2010.5,369.5],[2010.7,373.5],[2010.75,370.5],[2011,371.3],[2011.3,372.5],[2011.6,374.5],[2011.7,372],[2011.8,375.5],[2012.1,376.3],[2012.4,376.8],[2012.7,377.7],[2013,377.5],[2013.3,377.8],[2013.5,378.2],[2013.65,378],[2013.7,376],[2014,375.5],[2014.3,374.8],[2014.6,374.3],[2014.7,373.8],[2014.75,381.5],[2015,384],[2015.3,384.2],[2015.5,383.8],[2015.7,384.5],[2015.8,383.8],[2015.92,384.8]];

// Panel table: letter, y ticks, series in legend order
const panels = [
  ["a", a_ticks, [a_jena, a_jma, a_eth, a_ffnn]],
  ["b", b_ticks, [b_jena, b_jma, b_eth, b_ffnn]],
  ["c", c_ticks, [c_jena, c_jma, c_eth, c_ffnn]],
  ["d", d_ticks, [d_jena, d_jma, d_eth, d_ffnn]],
  ["e", e_ticks, [e_jena, e_jma, e_eth, e_ffnn]],
  ["f", f_ticks, [f_jena, f_jma, f_eth, f_ffnn]],
  ["g", g_ticks, [g_jena, g_jma, g_eth, g_ffnn]],
  ["h", h_ticks, [h_jena, h_jma, h_eth, h_ffnn]],
  ["i", i_ticks, [i_jena, i_jma, i_eth, i_ffnn]],
  ["j", j_ticks, [j_jena, j_jma, j_eth, j_ffnn]],
  ["k", k_ticks, [k_jena, k_jma, k_eth, k_ffnn]],
  ["l", l_ticks, [l_jena, l_jma, l_eth, l_ffnn]],
  ["m", m_ticks, [m_jena, m_jma, m_eth, m_ffnn]],
  ["n", n_ticks, [n_jena, n_jma, n_eth, n_ffnn]],
  ["o", o_ticks, [o_jena, o_jma, o_eth, o_ffnn]],
  ["p", p_ticks, [p_jena, p_jma, p_eth, p_ffnn]]
];

// Series are either values on the half-year grid T or [year, value] pairs
const toPoints = s => typeof s[0] === "number"
  ? s.map((v, i) => ({t: T[i], v}))
  : s.map(([t, v]) => ({t, v}));

// Layout of the 4x4 grid (plot-area boxes per column and row)
const plotLefts = [33, 366, 689, 1015];
const plotWidths = [298, 292, 296, 297];
const yLabelX = [11.5, 339.5, 665.5, 992.5];
const plotTops = [12, 280, 551, 827];
const PH = 215;
const ML = 33, MR = 6, MT = 12, MB = 30;
const FONT = '"Liberation Serif", "DejaVu Serif", serif';
const boldMonth = new Set(["a", "d", "p"]);
const dottedMonth = new Set(["e", "f"]);

const fig = document.getElementById("fig");

panels.forEach(([id, yt, series], idx) => {
  const col = idx % 4, row = Math.floor(idx / 4);
  const left = plotLefts[col], top = plotTops[row], PW = plotWidths[col];

  const lineMarks = series.map((s, k) => Plot.line(toPoints(s), {
    x: "t", y: "v", stroke: seriesColors[k], strokeWidth: seriesWidths[k],
    curve: "monotone-x", clip: true
  }));

  const svg = Plot.plot({
    width: ML + PW + MR, height: MT + PH + MB,
    marginLeft: ML, marginRight: MR, marginTop: MT, marginBottom: MB,
    style: {fontFamily: FONT, background: "transparent", overflow: "visible"},
    x: {domain: [2001, 2016], axis: null},
    y: {domain: [yt[0], yt[yt.length - 1]], label: null},
    marks: [
      Plot.gridX(xTicks, {stroke: "#dcdcdc", strokeOpacity: 1, strokeWidth: 0.8}),
      Plot.gridY(yt, {stroke: "#dcdcdc", strokeOpacity: 1, strokeWidth: 0.8}),
      Plot.axisY(yt, {anchor: "left", tickSize: 0, tickPadding: 3, label: null,
                      fontSize: 11, fill: "#555", tickFormat: d => String(d)}),
      Plot.axisY(yt, {anchor: "right", tickSize: 3, label: null, stroke: "#aaa",
                      tickFormat: () => ""}),
      Plot.text(xTicks, {x: d => d, frameAnchor: "bottom", dy: 9, rotate: -30,
                         text: d => String(d), textAnchor: "middle", fontSize: 11, fill: "#333"}),
      ...lineMarks,
      Plot.frame({stroke: "#aaaaaa", strokeWidth: 1.3})
    ]
  });

  const wrap = document.createElement("div");
  wrap.className = "panel";
  wrap.style.left = (left - ML) + "px";
  wrap.style.top = (top - MT) + "px";
  wrap.appendChild(svg);
  fig.appendChild(wrap);

  const ylab = document.createElement("div");
  ylab.className = "ylab";
  ylab.textContent = "uatm";
  ylab.style.left = yLabelX[col] + "px";
  ylab.style.top = (top + PH / 2) + "px";
  fig.appendChild(ylab);

  const xlab = document.createElement("div");
  xlab.className = "xlab" + (boldMonth.has(id) ? " bold" : "") + (dottedMonth.has(id) ? " dotted" : "");
  xlab.textContent = "Month";
  xlab.style.left = (left + PW / 2) + "px";
  xlab.style.top = (top + PH + 21.5) + "px";
  fig.appendChild(xlab);

  const letter = document.createElement("div");
  letter.className = "letter";
  letter.textContent = id;
  letter.style.left = (left + PW / 2) + "px";
  letter.style.top = (top + PH + 39) + "px";
  fig.appendChild(letter);

  // Legend sits inside the first panel only
  if (idx === 0) {
    const legend = document.createElement("div");
    legend.className = "legend";
    legend.style.left = (left + 4) + "px";
    legend.style.top = (top + 6) + "px";
    seriesNames.forEach((name, k) => {
      const r = document.createElement("div");
      r.className = "row";
      const sw = document.createElement("div");
      sw.className = "sw";
      sw.style.background = seriesColors[k];
      const lab = document.createElement("div");
      lab.className = "lab";
      lab.textContent = name;
      r.appendChild(sw);
      r.appendChild(lab);
      legend.appendChild(r);
    });
    fig.appendChild(legend);
  }
});
</script>
</body>
</html>
